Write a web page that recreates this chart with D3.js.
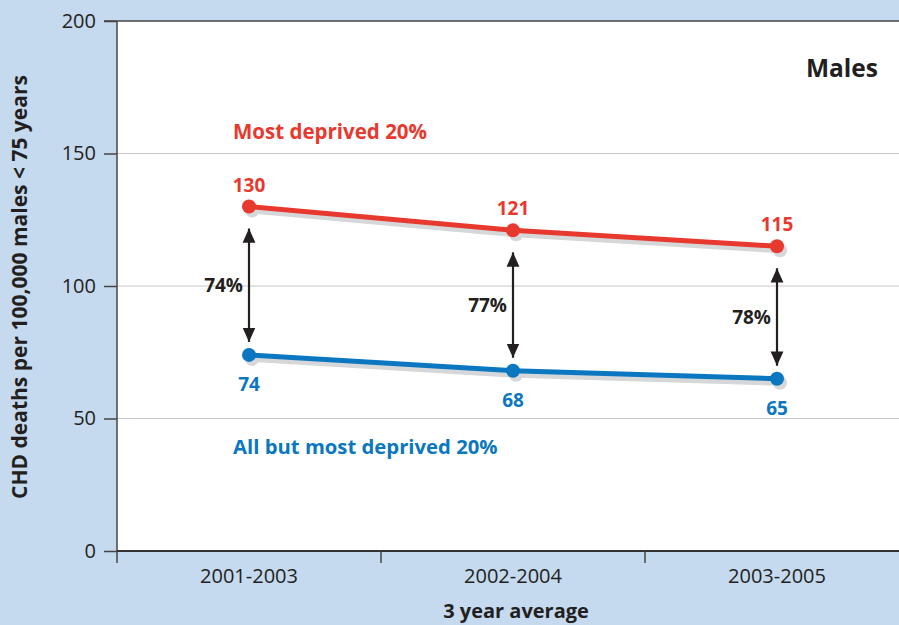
<!DOCTYPE html>
<html><head><meta charset="utf-8">
<script src="https://cdn.jsdelivr.net/npm/d3@7"></script>
<style>body{margin:0;background:#c5d9ef;}svg{display:block;font-family:"Open Sans",sans-serif;}</style>
</head><body>
<svg id="c" width="899" height="625"></svg>
<script>
const categories = ["2001-2003", "2002-2004", "2003-2005"];
const mostDeprived = [130, 121, 115];
const allButMost = [74, 68, 65];
const gapLabels = ["74%", "77%", "78%"];
const yTicks = [0, 50, 100, 150, 200];
const seriesNames = ["Most deprived 20%", "All but most deprived 20%"];

const W = 899, H = 625;
const m = {left: 117, top: 21, bottom: 551};
const svg = d3.select("#c");
const red = "#e8392f", blue = "#0a77c0", ink = "#231f20";

svg.append("rect").attr("width", W).attr("height", H).attr("fill", "#c5d9ef");
svg.append("rect").attr("x", m.left).attr("y", m.top).attr("width", W - m.left).attr("height", m.bottom - m.top).attr("fill", "#fff");

const x = d3.scaleBand().domain(categories).range([m.left, m.left + 3 * 264]);
const y = d3.scaleLinear().domain([0, 200]).range([m.bottom, m.top]);
const cx = d => x(d) + x.bandwidth() / 2;

// gridlines
svg.append("g").selectAll("line").data(yTicks.filter(t => t > 0 && t < 200)).join("line")
  .attr("x1", m.left).attr("x2", W).attr("y1", d => y(d)).attr("y2", d => y(d))
  .attr("stroke", "#c8c8c8").attr("stroke-width", 1);

// y axis
const ya = svg.append("g").attr("transform", `translate(${m.left},0)`)
  .call(d3.axisLeft(y).tickValues(yTicks).tickSize(13).tickPadding(8));
ya.select(".domain").attr("stroke", "#444").attr("stroke-width", 1.5).attr("d", `M0,${m.top}V${m.bottom + 12}`);
ya.selectAll(".tick line").attr("stroke", "#444").attr("stroke-width", 1.5);
ya.selectAll(".tick text").attr("font-size", 20).attr("fill", ink).attr("font-family", "Open Sans");

// top border
svg.append("line").attr("x1", m.left - 13).attr("x2", W).attr("y1", m.top).attr("y2", m.top).attr("stroke", "#444").attr("stroke-width", 1.5);

// x axis
const xa = svg.append("g").attr("transform", `translate(0,${m.bottom})`)
  .call(d3.axisBottom(x).tickSize(0).tickPadding(18));
xa.select(".domain").remove();
xa.selectAll(".tick text").attr("font-size", 20).attr("fill", ink).attr("font-family", "Open Sans");
svg.append("line").attr("x1", m.left).attr("x2", W).attr("y1", m.bottom).attr("y2", m.bottom).attr("stroke", "#333").attr("stroke-width", 2);
svg.append("g").selectAll("line").data(categories.slice(1)).join("line")
  .attr("x1", d => x(d)).attr("x2", d => x(d)).attr("y1", m.bottom).attr("y2", m.bottom + 12)
  .attr("stroke", "#444").attr("stroke-width", 1.5);

// axis titles
svg.append("text").attr("x", 516).attr("y", 618).attr("text-anchor", "middle")
  .attr("font-size", 20).attr("font-weight", "bold").attr("fill", ink).text("3 year average");
svg.append("text").attr("transform", `translate(27,${287}) rotate(-90)`).attr("text-anchor", "middle")
  .attr("font-size", 21).attr("font-weight", "bold").attr("fill", ink).text("CHD deaths per 100,000 males < 75 years");

// title
svg.append("text").attr("x", 878).attr("y", 77).attr("text-anchor", "end")
  .attr("font-size", 24.5).attr("font-weight", "bold").attr("fill", ink).text("Males");

const line = d3.line().x(d => cx(d.c)).y(d => y(d.v));
const series = [
  {name: seriesNames[0], vals: mostDeprived, color: red},
  {name: seriesNames[1], vals: allButMost, color: blue}
];
series.forEach((s, si) => {
  const pts = categories.map((c, i) => ({c, v: s.vals[i]}));
  const sh = svg.append("g").attr("transform", "translate(3,4)");
  sh.append("path").attr("d", line(pts)).attr("fill", "none").attr("stroke", "#d6d7d9").attr("stroke-width", 6);
  sh.selectAll("circle").data(pts).join("circle").attr("cx", d => cx(d.c)).attr("cy", d => y(d.v)).attr("r", 7).attr("fill", "#d6d7d9");
  svg.append("path").attr("d", line(pts)).attr("fill", "none").attr("stroke", s.color).attr("stroke-width", 5);
  svg.append("g").selectAll("circle").data(pts).join("circle").attr("cx", d => cx(d.c)).attr("cy", d => y(d.v)).attr("r", 7).attr("fill", s.color);
  svg.append("g").selectAll("text").data(pts).join("text")
    .attr("x", d => cx(d.c)).attr("y", d => si === 0 ? y(d.v) - 15 : y(d.v) + 36)
    .attr("text-anchor", "middle").attr("font-size", 19).attr("font-weight", "bold").attr("fill", s.color)
    .text(d => d.v);
});

svg.append("text").attr("x", 233).attr("y", 139).attr("font-size", 20.5).attr("font-weight", "bold").attr("fill", red).text(seriesNames[0]);
svg.append("text").attr("x", 233).attr("y", 454).attr("font-size", 20.3).attr("font-weight", "bold").attr("fill", blue).text(seriesNames[1]);

// arrows
const defs = svg.append("defs");
defs.append("marker").attr("id", "ah").attr("viewBox", "0 0 10 10").attr("refX", 10).attr("refY", 5)
  .attr("markerWidth", 6.5).attr("markerHeight", 6.5).attr("markerUnits", "strokeWidth").attr("orient", "auto-start-reverse")
  .append("path").attr("d", "M0,0.5L10,5L0,9.5Z").attr("fill", ink);
categories.forEach((c, i) => {
  const y1 = y(mostDeprived[i]) + 22, y2 = y(allButMost[i]) - 13;
  svg.append("line").attr("x1", cx(c)).attr("x2", cx(c)).attr("y1", y1).attr("y2", y2)
    .attr("stroke", ink).attr("stroke-width", 2.2)
    .attr("marker-start", "url(#ah)").attr("marker-end", "url(#ah)");
  svg.append("text").attr("x", cx(c) - 6).attr("y", (y1 + y2) / 2 + 7).attr("text-anchor", "end")
    .attr("font-size", 19).attr("font-weight", "bold").attr("fill", ink).text(gapLabels[i]);
});
</script>
</body></html>
